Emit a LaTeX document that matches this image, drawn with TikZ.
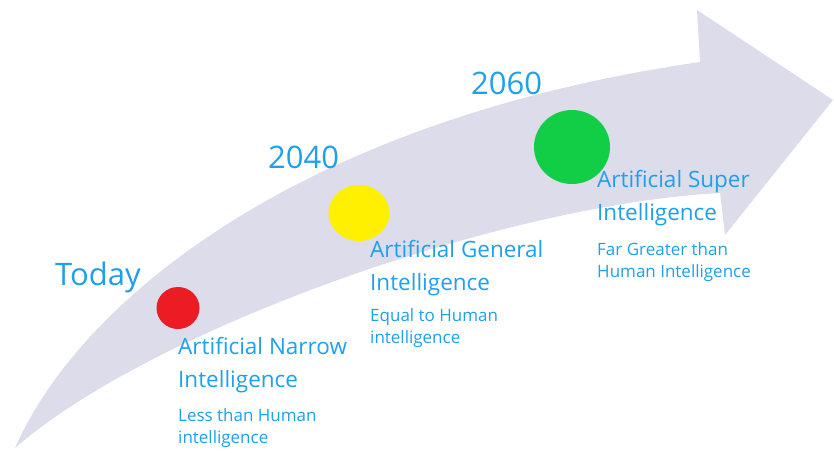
\documentclass[tikz,border=0pt]{standalone}
\usepackage{fontspec}
\setmainfont{Open Sans}
\usetikzlibrary{shapes.geometric}
\definecolor{bandc}{RGB}{220,220,234}
\definecolor{textb}{RGB}{32,160,234}
\definecolor{dotred}{RGB}{236,28,36}
\definecolor{dotyel}{RGB}{255,240,0}
\definecolor{dotgrn}{RGB}{18,206,70}
\tikzset{
    band/.style = {fill=bandc,draw=none},
    dotn/.style = {ellipse, draw=none, inner sep=0pt},
    dotr/.style = {dotn,fill=dotred,minimum width=43pt,minimum height=42pt},
    doty/.style = {dotn,fill=dotyel,minimum width=61pt,minimum height=56pt},
    dotg/.style = {dotn,fill=dotgrn,minimum width=76pt,minimum height=74pt},
    yearn/.style = {text=textb,inner sep=0pt,anchor=base west,font=\fontsize{31}{36}\selectfont},
    titlen/.style = {text=textb,inner sep=0pt,anchor=base west,align=left,font=\fontsize{22.5}{33}\selectfont},
    subn/.style = {text=textb,inner sep=0pt,anchor=base west,align=left,font=\fontsize{17}{22}\selectfont}
}

\begin{document}
\begin{tikzpicture}[x=1pt,y=-1pt]
\useasboundingbox (0,0) rectangle (834,452);
%
% the curved arrow
\path[band] (15,448) .. controls (80,300) and (300,120) .. (700,62)
    -- (697,10) -- (833,100) -- (725,235) -- (720,193)
    .. controls (500,205) and (150,330) .. (15,448) -- cycle;
%
\node[dotr] at (178,308) (narrow) {};
\node[doty] at (359,213) (general) {};
\node[dotg] at (572,147) (super) {};
%
% base anchor = last line
\node[yearn] at (55,285) (today) {Today};
\node[yearn] at (268,168) (y2040) {2040};
\node[yearn] at (471,94) (y2060) {2060};
%
\node[titlen] at (178,387) (tnarrow) {Artificial Narrow\\Intelligence};
\node[subn] at (178,443) (snarrow) {Less than Human\\intelligence};
\node[titlen] at (370,290) (tgeneral) {Artificial General\\Intelligence};
\node[subn] at (370,343) (sgeneral) {Equal to Human\\intelligence};
\node[titlen] at (597,220) (tsuper) {Artificial Super\\Intelligence};
\node[subn] at (597,277) (ssuper) {Far Greater than\\Human Intelligence};

\end{tikzpicture}
\end{document}
